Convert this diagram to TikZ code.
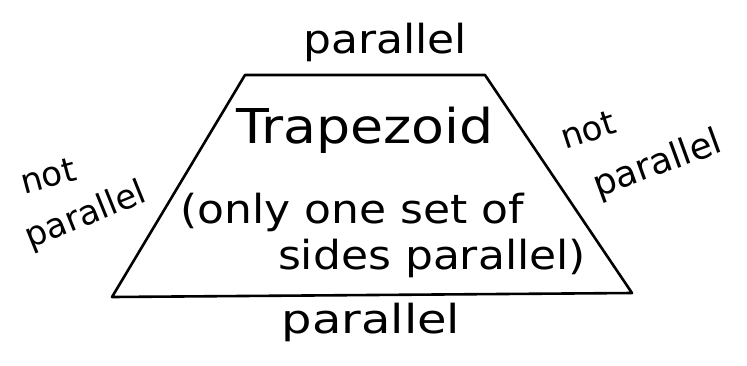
\documentclass[tikz,border=0pt]{standalone}
\usepackage{fontspec}
\setmainfont{DejaVu Sans}
\tikzset{
  hand/.style={font=\fontsize{40}{44}\selectfont, inner sep=0pt, transform shape},
  edge/.style={line width=2.6pt, line join=round, line cap=round}
}
\begin{document}
\begin{tikzpicture}[x=1pt,y=-1pt]
\useasboundingbox (0,0) rectangle (747,365);
\coordinate (tl) at (245,75);
\coordinate (tr) at (485,75);
\coordinate (br) at (632,293);
\coordinate (bl) at (112,297);
\draw[edge] (tl) -- (tr) -- (br) -- (bl) -- cycle;
\node[hand, xscale=1.1] (top) at (385,42) {parallel};
\node[hand, scale=1.2, xscale=1.12] (title) at (365,130) {Trapezoid};
\node[hand, xscale=1.1] (l1) at (352,212) {(only one set of};
\node[hand, xscale=1.1] (l2) at (432,258) {sides parallel)};
\node[hand, xscale=1.2] (bot) at (371,322) {parallel};
\node[hand, rotate=15, scale=0.85] (ln) at (48,176) {not};
\node[hand, rotate=22, scale=0.85] (lp) at (86,216) {parallel};
\node[hand, rotate=18, scale=0.85] (rn) at (588,130) {not};
\node[hand, rotate=20, scale=0.9] (rp) at (658,165) {parallel};
\end{tikzpicture}
\end{document}
